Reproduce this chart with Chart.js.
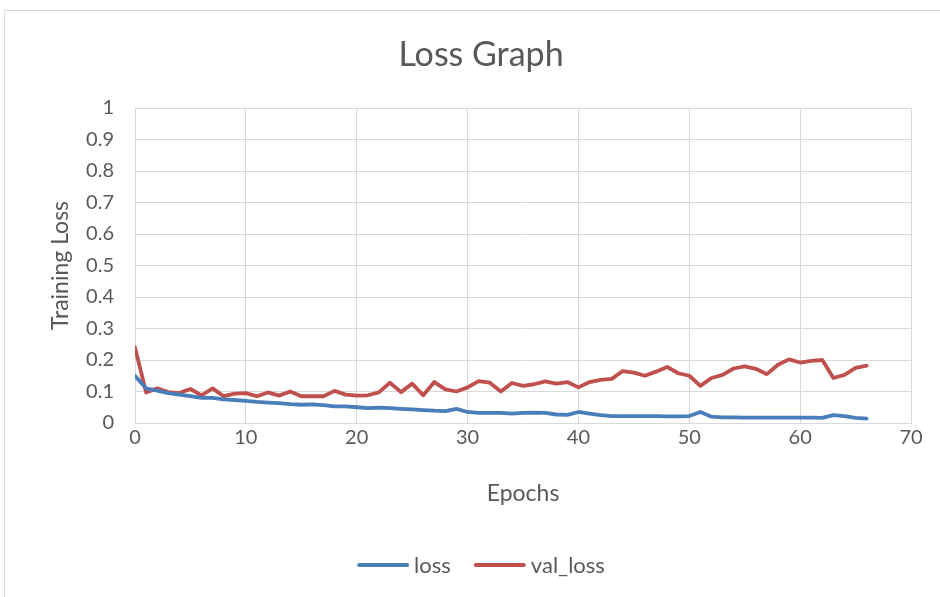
<!DOCTYPE html>
<html>
<head>
<meta charset="utf-8">
<title>Loss Graph</title>
<script src="https://cdn.jsdelivr.net/npm/chart.js@4/dist/chart.umd.min.js"></script>
<style>
  html, body { margin: 0; padding: 0; background: #ffffff; }
  #wrap { width: 940px; height: 597px; position: relative; }
</style>
</head>
<body>
<div id="wrap"><canvas id="chart" width="940" height="597"></canvas></div>
<script>
// Training history per epoch
const epochs = [
  0, 1, 2, 3, 4, 5, 6, 7, 8, 9,
  10, 11, 12, 13, 14, 15, 16, 17, 18, 19,
  20, 21, 22, 23, 24, 25, 26, 27, 28, 29,
  30, 31, 32, 33, 34, 35, 36, 37, 38, 39,
  40, 41, 42, 43, 44, 45, 46, 47, 48, 49,
  50, 51, 52, 53, 54, 55, 56, 57, 58, 59,
  60, 61, 62, 63, 64, 65, 66
];
const loss = [
  0.150, 0.110, 0.103, 0.095, 0.090, 0.085, 0.080, 0.080, 0.075, 0.073,
  0.070, 0.067, 0.065, 0.063, 0.060, 0.058, 0.059, 0.057, 0.053, 0.053,
  0.050, 0.047, 0.049, 0.047, 0.045, 0.043, 0.041, 0.039, 0.038, 0.045,
  0.035, 0.032, 0.032, 0.032, 0.030, 0.032, 0.033, 0.032, 0.027, 0.026,
  0.035, 0.030, 0.025, 0.022, 0.022, 0.022, 0.022, 0.022, 0.021, 0.021,
  0.022, 0.035, 0.020, 0.018, 0.018, 0.017, 0.017, 0.017, 0.017, 0.017,
  0.017, 0.017, 0.016, 0.025, 0.022, 0.016, 0.014
];
const valLoss = [
  0.240, 0.097, 0.110, 0.098, 0.095, 0.108, 0.088, 0.110, 0.085, 0.093,
  0.095, 0.085, 0.097, 0.087, 0.100, 0.085, 0.085, 0.085, 0.102, 0.090,
  0.087, 0.088, 0.097, 0.128, 0.098, 0.125, 0.088, 0.130, 0.107, 0.100,
  0.113, 0.133, 0.128, 0.100, 0.127, 0.118, 0.123, 0.132, 0.125, 0.130,
  0.113, 0.130, 0.137, 0.140, 0.165, 0.160, 0.150, 0.163, 0.178, 0.158,
  0.150, 0.118, 0.143, 0.153, 0.173, 0.180, 0.172, 0.155, 0.185, 0.202,
  0.192, 0.197, 0.200, 0.143, 0.153, 0.175, 0.182
];
const seriesNames = ['loss', 'val_loss'];
const xTicks = [0, 10, 20, 30, 40, 50, 60, 70];
const yTicks = [0, 0.1, 0.2, 0.3, 0.4, 0.5, 0.6, 0.7, 0.8, 0.9, 1];

const FONT = 'Lato, "Liberation Sans", sans-serif';
const TEXT = '#595959';
const GRID = '#d9d9d9';
const COLORS = ['#4a7ebb', '#c0504d'];

const toPoints = (ys) => epochs.map((e, i) => ({ x: e, y: ys[i] }));

// Frame, heading and legend of the chart object, centred on the whole frame
const decorPlugin = {
  id: 'decor',
  beforeDraw(chart) {
    const c = chart.ctx;
    c.save();
    c.fillStyle = '#ffffff';
    c.fillRect(0, 0, chart.width, chart.height);
    c.strokeStyle = GRID;
    c.lineWidth = 1;
    c.strokeRect(4.5, 10.5, chart.width + 10, chart.height + 10);
    c.restore();
  },
  afterDraw(chart) {
    const c = chart.ctx;
    const cx = 481;
    c.save();
    c.fillStyle = TEXT;
    c.textBaseline = 'middle';
    c.textAlign = 'center';
    c.font = '34px ' + FONT;
    c.fillText('Loss Graph', cx, 55);

    // legend: short line sample followed by the series name
    c.font = '22px ' + FONT;
    const lineLen = 52, gap = 5, between = 23, ly = 565;
    const widths = seriesNames.map(n => c.measureText(n).width);
    let total = 0;
    widths.forEach((w, i) => { total += lineLen + gap + w + (i ? between : 0); });
    let x = cx - total / 2;
    c.textAlign = 'left';
    chart.data.datasets.forEach((ds, i) => {
      c.strokeStyle = ds.borderColor;
      c.lineWidth = 4;
      c.lineCap = 'round';
      c.beginPath();
      c.moveTo(x + 2, ly);
      c.lineTo(x + lineLen - 2, ly);
      c.stroke();
      c.fillStyle = TEXT;
      c.fillText(ds.label, x + lineLen + gap, ly + 1);
      x += lineLen + gap + widths[i] + between;
    });
    c.restore();
  }
};

new Chart(document.getElementById('chart'), {
  type: 'line',
  data: {
    datasets: seriesNames.map((name, i) => ({
      label: name,
      data: toPoints(i === 0 ? loss : valLoss),
      borderColor: COLORS[i],
      backgroundColor: COLORS[i],
      borderWidth: 3.8,
      pointRadius: 0,
      tension: 0,
      borderJoinStyle: 'round',
      borderCapStyle: 'round'
    }))
  },
  plugins: [decorPlugin],
  options: {
    responsive: false,
    animation: false,
    events: [],
    layout: { padding: { left: 0, right: 29, top: 108, bottom: 0 } },
    plugins: {
      title: { display: false },
      legend: { display: false },
      tooltip: { enabled: false }
    },
    scales: {
      x: {
        type: 'linear',
        min: 0,
        max: 70,
        afterBuildTicks(scale) { scale.ticks = xTicks.map(v => ({ value: v })); },
        afterFit(scale) { scale.height = 174; },
        grid: { color: GRID, lineWidth: 1, drawTicks: false },
        border: { color: GRID, width: 1 },
        ticks: { color: TEXT, font: { family: FONT, size: 20 }, padding: 3, maxRotation: 0 },
        title: {
          display: true,
          text: 'Epochs',
          color: TEXT,
          font: { family: FONT, size: 23 },
          padding: { top: 4, bottom: 90 }
        }
      },
      y: {
        min: 0,
        max: 1,
        afterBuildTicks(scale) { scale.ticks = yTicks.map(v => ({ value: v })); },
        afterFit(scale) { scale.width = 135; },
        grid: { color: GRID, lineWidth: 1, drawTicks: false },
        border: { color: GRID, width: 1 },
        ticks: {
          color: TEXT,
          font: { family: FONT, size: 20 },
          padding: 21,
          callback: (v) => String(Math.round(v * 10) / 10)
        },
        title: {
          display: true,
          text: 'Training Loss',
          color: TEXT,
          font: { family: FONT, size: 23 },
          padding: { top: 47, bottom: 4 }
        }
      }
    }
  }
});
</script>
</body>
</html>
